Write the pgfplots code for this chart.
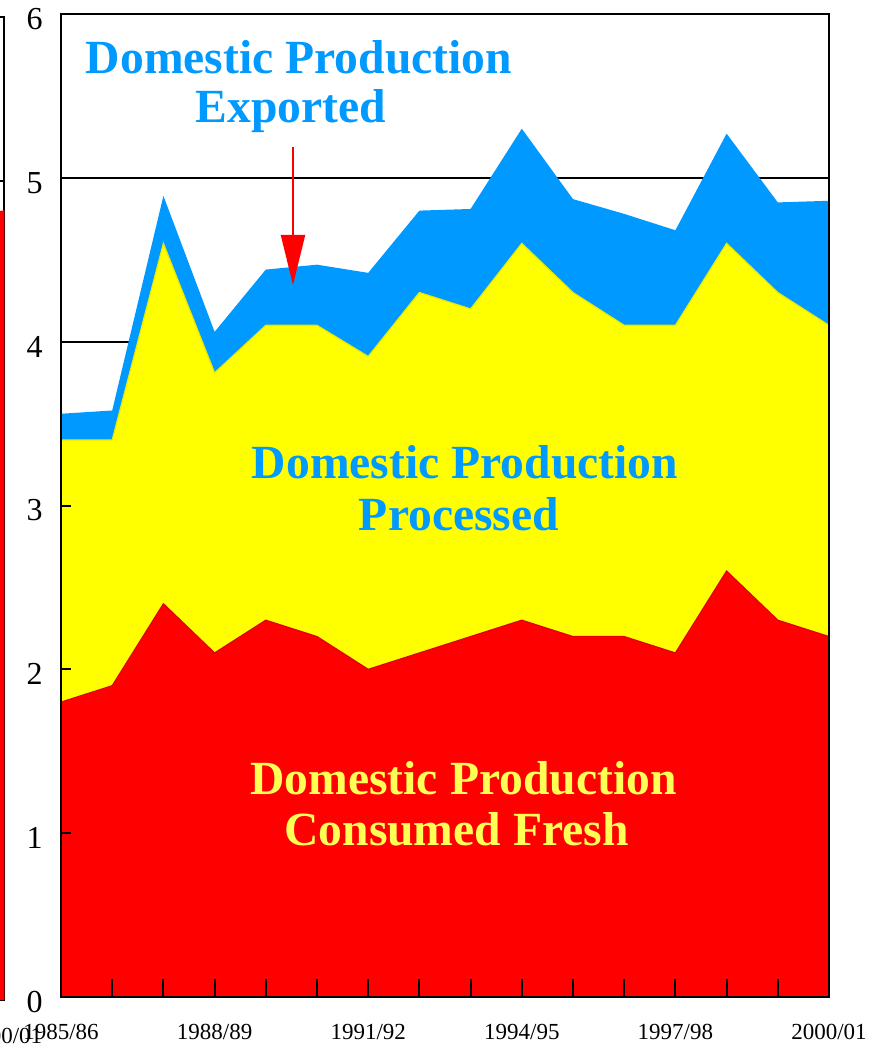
\documentclass[border=0pt]{standalone}
\usepackage{pgfplots}
\pgfplotsset{compat=1.18}
\usepackage{pgfplotstable}
\usepackage{fontspec}
\setmainfont{Liberation Serif}
\usetikzlibrary{arrows.meta}

\definecolor{expblue}{HTML}{0099FF}
\definecolor{procyellow}{HTML}{FFFF00}
\definecolor{procedge}{HTML}{E8E800}
\definecolor{freshred}{HTML}{FF0000}
\definecolor{freshedge}{HTML}{E00000}
\definecolor{labelyellow}{HTML}{FFFF55}

% Cumulative levels (million tons): fresh, fresh+processed, fresh+processed+exported
\pgfplotstableread{
idx fresh processed exported
0  1.80 3.40 3.56
1  1.90 3.40 3.58
2  2.40 4.60 4.89
3  2.10 3.81 4.06
4  2.30 4.10 4.44
5  2.20 4.10 4.47
6  2.00 3.91 4.42
7  2.10 4.30 4.80
8  2.20 4.20 4.81
9  2.30 4.60 5.30
10 2.20 4.30 4.87
11 2.20 4.10 4.78
12 2.10 4.10 4.68
13 2.60 4.60 5.27
14 2.30 4.30 4.85
15 2.20 4.10 4.86
}\supply

\pgfplotsset{
  panel/.style={
    scale only axis, width=384pt, height=491.5pt,
    xmin=0, xmax=15, ymin=0, ymax=6,
    axis line style={black, line width=1pt},
  },
}

\begin{document}
\begin{tikzpicture}
\useasboundingbox (0,0) rectangle (434.5pt,523pt);
\clip (0,0) rectangle (434.5pt,523pt);

% edge of the neighbouring panel
\begin{axis}[panel, at={(2.25pt,23pt)}, anchor=south east,
  xtick={15}, xticklabels={2000/01}, ytick={5}, yticklabels={},
  ymajorgrids, grid style={black, line width=1pt},
  major tick length=0pt,
  xticklabel style={font=\fontsize{11.5}{12}\selectfont, anchor=base, inner sep=0pt, yshift=-21.5pt}]
\addplot[fill=freshred, draw=none] coordinates {(14,4.78) (15,4.82)} \closedcycle;
\end{axis}

% grid behind the areas
\begin{axis}[panel, at={(30.5pt,24.5pt)}, anchor=south west,
  xtick=\empty, ytick={0,...,6}, yticklabels={},
  ymajorgrids, grid style={black, line width=1pt}, major tick length=0pt]
\end{axis}

% stacked supply areas
\begin{axis}[panel, at={(30.5pt,24.5pt)}, anchor=south west,
  axis on top,
  tick align=inside, xtick pos=left, ytick pos=left,
  xtick={0,...,15},
  xticklabels={1985/86,,,1988/89,,,1991/92,,,1994/95,,,1997/98,,,2000/01},
  ytick={0,...,6}, minor ytick={1,2,3},
  major tick length=9pt, minor tick length=5pt,
  every major y tick/.append style={draw=none},
  tick style={black, line width=1pt},
  minor tick style={black, line width=1pt},
  /pgf/number format/assume math mode=true,
  xticklabel style={font=\fontsize{11.5}{12}\selectfont, anchor=base, inner sep=0pt, yshift=-21.5pt},
  yticklabel style={font=\fontsize{16}{16}\selectfont, anchor=east, inner sep=0pt, xshift=-9pt, yshift=-2.5pt}]
\addplot[fill=expblue, draw=none] table[x=idx, y=exported] {\supply} \closedcycle;
\addplot[fill=procyellow, draw=procedge, line width=0.6pt] table[x=idx, y=processed] {\supply} \closedcycle;
\addplot[fill=freshred, draw=freshedge, line width=0.6pt] table[x=idx, y=fresh] {\supply} \closedcycle;
\end{axis}

\draw[freshred, line width=1pt, -{Triangle[width=12pt,length=25pt]}] (146.5pt,449.5pt) -- (146.5pt,380.5pt);

\begin{scope}[every node/.style={font=\fontsize{23.8}{25}\selectfont\bfseries, inner sep=0pt, anchor=base}]
\node[text=expblue] at (149.5pt,486pt) {Domestic Production};
\node[text=expblue] at (145.5pt,461.5pt) {Exported};
\node[text=expblue] at (232.5pt,283.5pt) {Domestic Production};
\node[text=expblue] at (229.5pt,257.5pt) {Processed};
\node[text=labelyellow] at (231.75pt,125.5pt) {Domestic Production};
\node[text=labelyellow] at (228.25pt,100pt) {Consumed Fresh};
\end{scope}
\end{tikzpicture}
\end{document}
